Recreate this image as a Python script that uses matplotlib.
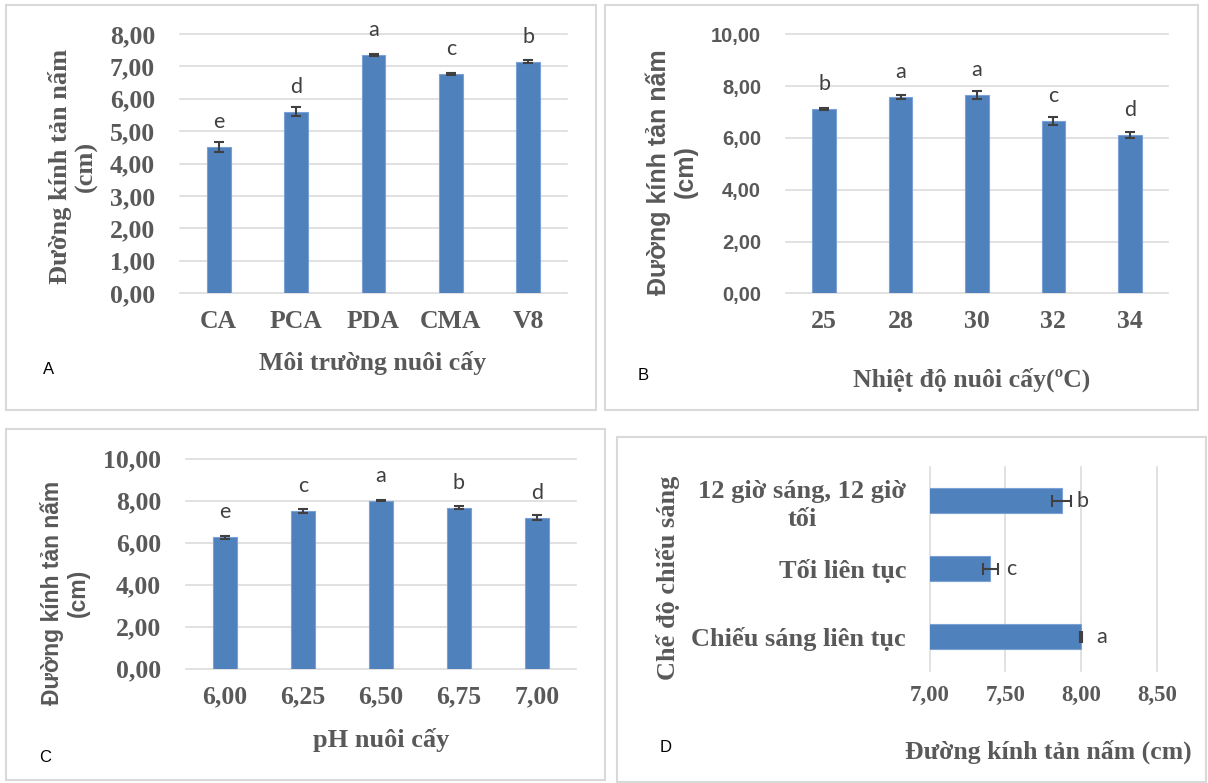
import numpy as np
import matplotlib
matplotlib.use("Agg")
import matplotlib.pyplot as plt
from matplotlib.patches import Rectangle

W, H = 1208, 783

# A - moi truong nuoi cay
media = ["CA", "PCA", "PDA", "CMA", "V8"]
media_mean = [4.52, 5.60, 7.35, 6.75, 7.15]
media_err = [0.15, 0.14, 0.03, 0.03, 0.04]
media_grp = ["e", "d", "a", "c", "b"]

# B - nhiet do
temps = ["25", "28", "30", "32", "34"]
temp_mean = [7.12, 7.57, 7.66, 6.65, 6.12]
temp_err = [0.05, 0.08, 0.16, 0.15, 0.11]
temp_grp = ["b", "a", "a", "c", "d"]

# C - pH
ph = ["6,00", "6,25", "6,50", "6,75", "7,00"]
ph_mean = [6.25, 7.51, 8.00, 7.67, 7.18]
ph_err = [0.08, 0.10, 0.02, 0.08, 0.12]
ph_grp = ["e", "c", "a", "b", "d"]

# D - che do chieu sang (bottom to top)
light = ["Chiếu sáng liên tục", "Tối liên tục", "12 giờ sáng, 12 giờ\ntối"]
light_mean = [8.00, 7.40, 7.87]
light_err = [0.005, 0.05, 0.06]
light_grp = ["a", "c", "b"]

BLUE = "#4f81bd"
EDGE = "#7aa0d4"
GRID = "#d9d9d9"
GRAY = "#595959"
ERR = "#404040"
SERIF = "Liberation Serif"
SANS = "Liberation Sans"
YLAB = "Đường kính tản nấm\n(cm)"


def rect(l, t, r, b):
    return [l / W, 1 - b / H, (r - l) / W, (b - t) / H]


def fx(x):
    return x / W


def fy(y):
    return 1 - y / H


def fmt(v):
    return f"{v:.2f}".replace(".", ",")


def vbar(ax, cats, mean, err, grp, ymax, step, yfont):
    x = np.arange(len(cats))
    ax.bar(x, mean, width=0.31, color=BLUE, edgecolor=EDGE, lw=0.8, zorder=2)
    ax.errorbar(x, mean, yerr=err, fmt="none", ecolor=ERR, elinewidth=1.5,
                capsize=3.4, capthick=1.5, zorder=3)
    for xi, m, g in zip(x, mean, grp):
        ax.annotate(g, (xi, m), xytext=(0, 18), textcoords="offset points",
                    ha="center", va="center", fontsize=15.5, family="Lato", color=ERR)
    ax.set_xlim(-0.5, len(cats) - 0.5)
    ax.set_ylim(0, ymax)
    ticks = np.arange(0, ymax + step / 2, step)
    ax.set_yticks(ticks)
    ax.set_yticklabels([fmt(t) for t in ticks], color=GRAY, weight="bold", **yfont)
    ax.set_xticks(x)
    ax.set_xticklabels(cats, family=SERIF, weight="bold", fontsize=18.5, color=GRAY)
    ax.tick_params(axis="x", length=0, pad=12)
    ax.tick_params(axis="y", length=0, pad=18)
    ax.yaxis.grid(True, color=GRID, lw=1.1)
    ax.set_axisbelow(True)
    for s in ax.spines.values():
        s.set_visible(False)
    for ln in ax.get_ygridlines():
        ln.set_clip_on(False)
    ax.patch.set_alpha(0)


fig = plt.figure(figsize=(W / 100, H / 100), dpi=100)

# panel borders
for l, t, r, b in [(6, 5, 596, 410), (605, 5, 1198, 410), (6, 429, 605, 780), (617, 437, 1206, 782)]:
    fig.add_artist(Rectangle((fx(l), fy(b)), (r - l) / W, (b - t) / H, transform=fig.transFigure,
                             fill=False, edgecolor=GRID, lw=1.5))

# A
axA = fig.add_axes(rect(180, 34, 567, 293))
vbar(axA, media, media_mean, media_err, media_grp, 8, 1, dict(family=SERIF, fontsize=18.5))
fig.text(fx(73), fy(166), YLAB, rotation=90, ha="center", va="center", multialignment="center",
         family=SERIF, weight="bold", fontsize=19, color=GRAY, linespacing=1.15)
fig.text(fx(373), fy(363), "Môi trường nuôi cấy", ha="center", va="center",
         family=SERIF, weight="bold", fontsize=18.5, color=GRAY)
fig.text(fx(49), fy(370), "A", ha="center", va="center", family=SANS, fontsize=12, color="black")

# B
axB = fig.add_axes(rect(786, 34.3, 1168, 293.3))
vbar(axB, temps, temp_mean, temp_err, temp_grp, 10, 2, dict(family=SANS, fontsize=14.5))
fig.text(fx(672), fy(172), YLAB, rotation=90, ha="center", va="center", multialignment="center",
         family=SANS, weight="bold", fontsize=18, color=GRAY, linespacing=1.15)
fig.text(fx(972), fy(380), "Nhiệt độ nuôi cấy(ºC)", ha="center", va="center",
         family=SERIF, weight="bold", fontsize=18.5, color=GRAY)
fig.text(fx(643), fy(375), "B", ha="center", va="center", family=SANS, fontsize=12, color="black")

# C
axC = fig.add_axes(rect(186, 458.7, 576, 668.7))
vbar(axC, ph, ph_mean, ph_err, ph_grp, 10, 2, dict(family=SERIF, fontsize=18.5))
fig.text(fx(65), fy(593), YLAB, rotation=90, ha="center", va="center", multialignment="center",
         family=SANS, weight="bold", fontsize=16.5, color=GRAY, linespacing=1.2)
fig.text(fx(381), fy(740), "pH nuôi cấy", ha="center", va="center",
         family=SERIF, weight="bold", fontsize=19, color=GRAY)
fig.text(fx(45), fy(758), "C", ha="center", va="center", family=SANS, fontsize=12, color="black")

# D
axD = fig.add_axes(rect(929.7, 466.7, 1157, 670.7))
y = np.arange(len(light))
axD.barh(y, light_mean, height=0.36, color=BLUE, edgecolor=EDGE, lw=0.8, zorder=2)
axD.errorbar(light_mean, y, xerr=light_err, fmt="none", ecolor=ERR, elinewidth=1.5,
             capsize=4.2, capthick=1.5, zorder=3)
for yi, m, g in zip(y, light_mean, light_grp):
    axD.annotate(g, (m, yi), xytext=(15, 0), textcoords="offset points",
                 ha="center", va="center", fontsize=15.5, family="Lato", color=ERR)
axD.set_xlim(7, 8.5)
axD.set_ylim(-0.5, len(light) - 0.5)
xt = [7.0, 7.5, 8.0, 8.5]
axD.set_xticks(xt)
axD.set_xticklabels([fmt(v) for v in xt], family=SERIF, weight="bold", fontsize=16.5, color=GRAY)
axD.set_yticks(y)
axD.set_yticklabels(light, family=SERIF, weight="bold", fontsize=19, color=GRAY,
                    multialignment="center", linespacing=1.25)
axD.tick_params(axis="x", length=0, pad=10)
axD.tick_params(axis="y", length=0, pad=17)
axD.xaxis.grid(True, color=GRID, lw=1.1)
axD.set_axisbelow(True)
for s in axD.spines.values():
    s.set_visible(False)
for ln in axD.get_xgridlines():
    ln.set_clip_on(False)
axD.patch.set_alpha(0)
fig.text(fx(668), fy(578), "Chế độ chiếu sáng", rotation=90, ha="center", va="center",
         family=SERIF, weight="bold", fontsize=19, color=GRAY)
fig.text(fx(1048), fy(752), "Đường kính tản nấm (cm)", ha="center", va="center",
         family=SERIF, weight="bold", fontsize=18.5, color=GRAY)
fig.text(fx(666), fy(748), "D", ha="center", va="center", family=SANS, fontsize=12, color="black")

fig.savefig("out.png", dpi=100)
